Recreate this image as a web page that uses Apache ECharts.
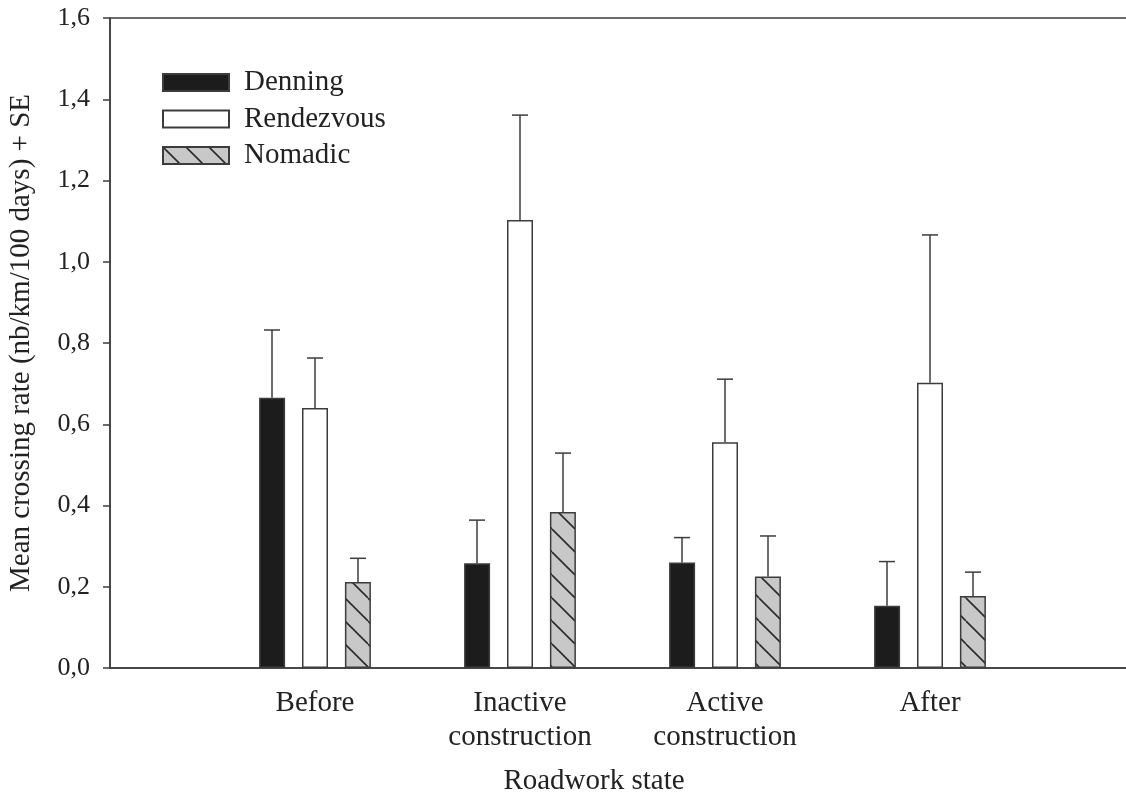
<!DOCTYPE html>
<html><head><meta charset="utf-8">
<script src="https://cdn.jsdelivr.net/npm/echarts@6/dist/echarts.min.js"></script>
<style>html,body{margin:0;padding:0;background:#fff}#c{width:1126px;height:798px}</style>
</head><body><div id="c"></div>
<script>
// ---- data ----
const categories = ['Before', 'Inactive\nconstruction', 'Active\nconstruction', 'After'];
const seriesNames = ['Denning', 'Rendezvous', 'Nomadic'];
const denningMean = [0.665, 0.258, 0.260, 0.153];
const denningSE = [0.167, 0.106, 0.061, 0.109];
const rendezvousMean = [0.640, 1.103, 0.556, 0.702];
const rendezvousSE = [0.123, 0.258, 0.155, 0.364];
const nomadicMean = [0.212, 0.384, 0.225, 0.177];
const nomadicSE = [0.058, 0.145, 0.100, 0.059];
const yTickLabels = ['0,0', '0,2', '0,4', '0,6', '0,8', '1,0', '1,2', '1,4', '1,6'];
const xAxisTitle = 'Roadwork state';
const yAxisTitle = 'Mean crossing rate (nb/km/100 days) + SE';

// ---- styling helpers ----
const FONT = 'Liberation Serif';
const LINE = '#3c3c3c';
function hatch() {
  const c = document.createElement('canvas');
  c.width = 23; c.height = 23;
  const g = c.getContext('2d');
  g.fillStyle = '#c8c8c8'; g.fillRect(0, 0, 23, 23);
  g.strokeStyle = '#2a2a2a'; g.lineWidth = 1.6;
  for (const d of [-23, 0, 23]) { g.beginPath(); g.moveTo(d, 0); g.lineTo(d + 23, 23); g.stroke(); }
  return c;
}
const fills = ['#1c1c1c', '#ffffff', { image: hatch(), repeat: 'repeat' }];
const means = [denningMean, rendezvousMean, nomadicMean];
const ses = [denningSE, rendezvousSE, nomadicSE];
const offsets = [-43, 0, 43];

const paddedCats = [''].concat(categories, ['']);
const pad = arr => ['-'].concat(arr, ['-']);

const series = [];
seriesNames.forEach((name, i) => {
  series.push({
    name, type: 'bar', data: pad(means[i]), barWidth: 26, barGap: '65%',
    itemStyle: { color: fills[i], borderColor: LINE, borderWidth: 1.5 },
    silent: true
  });
});
seriesNames.forEach((name, i) => {
  series.push({
    name: name + ' SE', type: 'custom', z: 5, silent: true,
    data: means[i].map((m, k) => [k + 1, m, m + ses[i][k]]),
    renderItem(params, api) {
      const x = api.value(0);
      const p0 = api.coord([x, api.value(1)]);
      const p1 = api.coord([x, api.value(2)]);
      const cx = p0[0] + offsets[i];
      const st = { stroke: LINE, lineWidth: 1.5 };
      return { type: 'group', children: [
        { type: 'line', shape: { x1: cx, y1: p0[1], x2: cx, y2: p1[1] }, style: st },
        { type: 'line', shape: { x1: cx - 8, y1: p1[1], x2: cx + 8, y2: p1[1] }, style: st }
      ] };
    }
  });
});

const chart = echarts.init(document.getElementById('c'), null, { renderer: 'canvas' });
chart.setOption({
  animation: false,
  backgroundColor: '#fff',
  textStyle: { fontFamily: FONT },
  grid: { left: 110, top: 18, width: 1025, height: 650, outerBoundsMode: 'none', containLabel: false,
    show: true, borderColor: LINE, borderWidth: 1.5, backgroundColor: 'transparent' },
  legend: {
    data: seriesNames, orient: 'vertical', left: 157, top: 63,
    itemWidth: 66, itemHeight: 17, itemGap: 7.5, icon: 'rect',
    textStyle: { fontFamily: FONT, fontSize: 29, color: '#222', padding: [0, 0, 0, 10] }
  },
  xAxis: {
    type: 'category', data: paddedCats, boundaryGap: false,
    axisLine: { lineStyle: { color: LINE, width: 1.5 } },
    axisTick: { show: false },
    axisLabel: { interval: 0, fontFamily: FONT, fontSize: 29, color: '#222', lineHeight: 34, margin: 18 },
    splitLine: { show: false }
  },
  yAxis: {
    type: 'value', min: 0, max: 1.6, interval: 0.2,
    name: yAxisTitle, nameLocation: 'middle', nameGap: 74,
    nameTextStyle: { fontFamily: FONT, fontSize: 29, color: '#222' },
    axisLine: { show: true, lineStyle: { color: LINE, width: 1.5 } },
    axisTick: { show: true, length: 7, lineStyle: { color: LINE, width: 1.5 } },
    axisLabel: { fontFamily: FONT, fontSize: 26, color: '#222', margin: 20,
      formatter: v => yTickLabels[Math.round(v / 0.2)] },
    splitLine: { show: false }
  },
  graphic: [{
    type: 'text', x: 594, y: 781, silent: true,
    style: { text: xAxisTitle, fontFamily: FONT, fontSize: 29, fill: '#222', textAlign: 'center', textVerticalAlign: 'middle' }
  }],
  series
});
</script></body></html>
